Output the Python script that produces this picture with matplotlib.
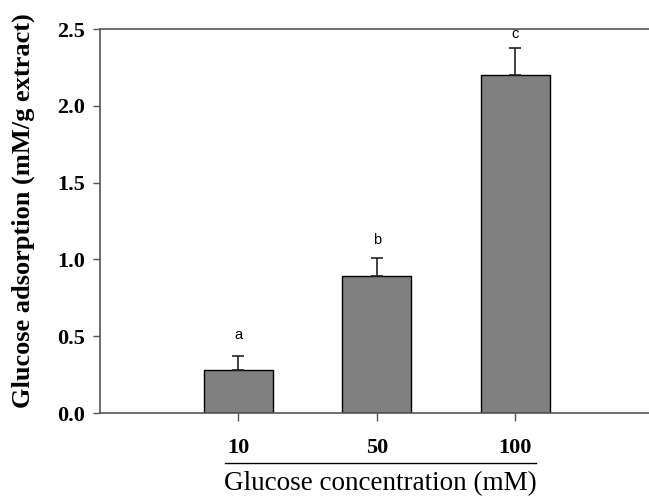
import numpy as np
import matplotlib.pyplot as plt
from matplotlib.lines import Line2D

# Glucose adsorption by concentration
concentrations = ['10', '50', '100']
adsorption = [0.28, 0.89, 2.20]
sem = [0.09, 0.12, 0.18]
letters = ['a', 'b', 'c']
letter_offset = [15, 13, 9.5]  # points above the error cap

fig = plt.figure(figsize=(6.49, 4.97), dpi=100)
# the axes runs past the right edge so top/bottom lines reach the border
ax = fig.add_axes([0.154, 0.169, 0.896, 0.7725])

x = np.arange(len(concentrations))
ax.bar(x, adsorption, width=0.5, color='#808080', edgecolor='black', linewidth=1.0, zorder=2)
ax.errorbar(x, adsorption, yerr=[np.zeros(len(sem)), sem], fmt='none',
            ecolor='#222222', elinewidth=1.2, capsize=4.5, capthick=1.2, zorder=3)

for xi, v, e, l, off in zip(x, adsorption, sem, letters, letter_offset):
    ax.annotate(l, (xi, v + e), xytext=(0, off), textcoords='offset points',
                ha='center', va='center', fontsize=10.5, family='Liberation Sans')

ax.set_xlim(-1.0, 3.2)
ax.set_ylim(0, 2.5)
ax.set_yticks([0, 0.5, 1.0, 1.5, 2.0, 2.5])
ax.set_yticklabels(['0.0', '0.5', '1.0', '1.5', '2.0', '2.5'])
ax.set_xticks(x)
ax.set_xticklabels(concentrations)

for lab in ax.get_xticklabels() + ax.get_yticklabels():
    lab.set_family('Liberation Serif')
    lab.set_fontweight('bold')
    lab.set_fontsize(16)

ax.spines['right'].set_visible(False)
for s in ['left', 'bottom', 'top']:
    ax.spines[s].set_color('#555555')
    ax.spines[s].set_linewidth(1.2)
ax.tick_params(axis='y', direction='out', length=5, width=1, color='#555555', pad=6)
ax.tick_params(axis='x', direction='out', length=6, width=1, color='#555555', pad=12)

ax.set_ylabel('Glucose adsorption (mM/g extract)', family='Liberation Serif',
              fontweight='bold', fontsize=19, va='center')
ax.yaxis.set_label_coords(-0.132, 0.526)

# underline above the x-axis title
fig.add_artist(Line2D([225 / 649, 536 / 649], [1 - 463 / 497, 1 - 463 / 497],
                      color='black', linewidth=1.0))
fig.text(380 / 649, 1 - 484 / 497, 'Glucose concentration (mM)', ha='center', va='center',
         family='Liberation Serif', fontsize=19.5)

fig.savefig('out.png', dpi=100)
